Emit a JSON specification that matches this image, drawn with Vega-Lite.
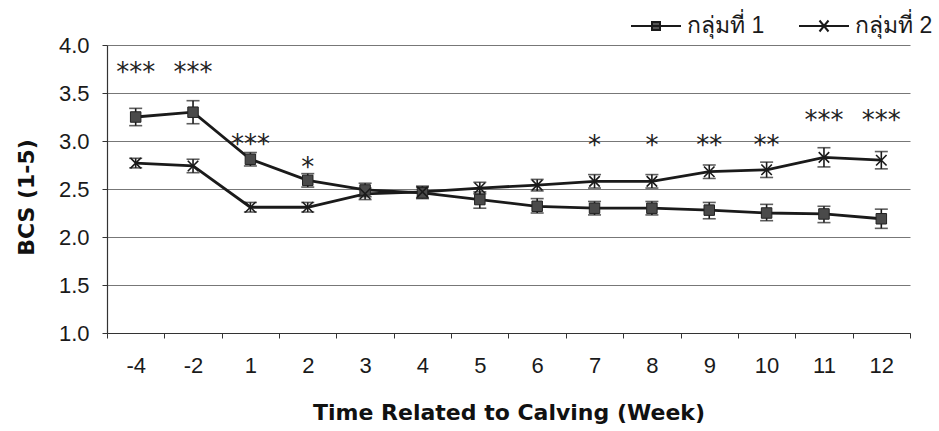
{
  "$schema": "https://vega.github.io/schema/vega-lite/v6.json",
  "width": 803,
  "height": 288,
  "autosize": {"type": "none"},
  "padding": {"left": 107, "top": 45, "right": 29, "bottom": 98},
  "background": "white",
  "config": {
    "view": {"stroke": null},
    "font": "Liberation Sans"
  },
  "datasets": {
    "bcs": [
      {"week": "-4", "group": "กลุ่มที่ 1", "mean": 3.25, "lo": 3.16, "hi": 3.34},
      {"week": "-2", "group": "กลุ่มที่ 1", "mean": 3.30, "lo": 3.18, "hi": 3.42},
      {"week": "1", "group": "กลุ่มที่ 1", "mean": 2.81, "lo": 2.74, "hi": 2.88},
      {"week": "2", "group": "กลุ่มที่ 1", "mean": 2.59, "lo": 2.52, "hi": 2.66},
      {"week": "3", "group": "กลุ่มที่ 1", "mean": 2.49, "lo": 2.42, "hi": 2.56},
      {"week": "4", "group": "กลุ่มที่ 1", "mean": 2.46, "lo": 2.40, "hi": 2.52},
      {"week": "5", "group": "กลุ่มที่ 1", "mean": 2.39, "lo": 2.30, "hi": 2.47},
      {"week": "6", "group": "กลุ่มที่ 1", "mean": 2.32, "lo": 2.25, "hi": 2.40},
      {"week": "7", "group": "กลุ่มที่ 1", "mean": 2.30, "lo": 2.23, "hi": 2.37},
      {"week": "8", "group": "กลุ่มที่ 1", "mean": 2.30, "lo": 2.23, "hi": 2.37},
      {"week": "9", "group": "กลุ่มที่ 1", "mean": 2.28, "lo": 2.19, "hi": 2.36},
      {"week": "10", "group": "กลุ่มที่ 1", "mean": 2.25, "lo": 2.17, "hi": 2.34},
      {"week": "11", "group": "กลุ่มที่ 1", "mean": 2.24, "lo": 2.15, "hi": 2.32},
      {"week": "12", "group": "กลุ่มที่ 1", "mean": 2.19, "lo": 2.09, "hi": 2.29},
      {"week": "-4", "group": "กลุ่มที่ 2", "mean": 2.77, "lo": 2.72, "hi": 2.82},
      {"week": "-2", "group": "กลุ่มที่ 2", "mean": 2.74, "lo": 2.67, "hi": 2.81},
      {"week": "1", "group": "กลุ่มที่ 2", "mean": 2.31, "lo": 2.26, "hi": 2.36},
      {"week": "2", "group": "กลุ่มที่ 2", "mean": 2.31, "lo": 2.26, "hi": 2.36},
      {"week": "3", "group": "กลุ่มที่ 2", "mean": 2.45, "lo": 2.39, "hi": 2.51},
      {"week": "4", "group": "กลุ่มที่ 2", "mean": 2.47, "lo": 2.41, "hi": 2.53},
      {"week": "5", "group": "กลุ่มที่ 2", "mean": 2.51, "lo": 2.45, "hi": 2.57},
      {"week": "6", "group": "กลุ่มที่ 2", "mean": 2.54, "lo": 2.48, "hi": 2.60},
      {"week": "7", "group": "กลุ่มที่ 2", "mean": 2.58, "lo": 2.51, "hi": 2.65},
      {"week": "8", "group": "กลุ่มที่ 2", "mean": 2.58, "lo": 2.51, "hi": 2.65},
      {"week": "9", "group": "กลุ่มที่ 2", "mean": 2.68, "lo": 2.61, "hi": 2.75},
      {"week": "10", "group": "กลุ่มที่ 2", "mean": 2.70, "lo": 2.62, "hi": 2.78},
      {"week": "11", "group": "กลุ่มที่ 2", "mean": 2.83, "lo": 2.73, "hi": 2.93},
      {"week": "12", "group": "กลุ่มที่ 2", "mean": 2.80, "lo": 2.71, "hi": 2.89}
    ],
    "stars": [
      {"week": "-4", "label": "***", "y": 3.76},
      {"week": "-2", "label": "***", "y": 3.76},
      {"week": "1", "label": "***", "y": 3.01},
      {"week": "2", "label": "*", "y": 2.77},
      {"week": "7", "label": "*", "y": 3.0},
      {"week": "8", "label": "*", "y": 3.0},
      {"week": "9", "label": "**", "y": 3.0},
      {"week": "10", "label": "**", "y": 3.0},
      {"week": "11", "label": "***", "y": 3.26},
      {"week": "12", "label": "***", "y": 3.26}
    ]
  },
  "encoding": {
    "x": {
      "field": "week",
      "type": "ordinal",
      "sort": ["-4", "-2", "1", "2", "3", "4", "5", "6", "7", "8", "9", "10", "11", "12"],
      "scale": {"paddingInner": 0, "paddingOuter": 0},
      "axis": {
        "title": "Time Related to Calving (Week)",
        "labelAngle": 0,
        "labelFont": "Liberation Sans",
        "labelFontSize": 22,
        "labelColor": "#1a1a1a",
        "labelPadding": 17,
        "tickSize": 5,
        "tickBand": "extent",
        "tickColor": "#333",
        "domainColor": "#333",
        "domainWidth": 1.2,
        "titleFont": "DejaVu Sans",
        "titleFontSize": 22,
        "titleFontWeight": "bold",
        "titleColor": "#111",
        "titlePadding": 26,
        "grid": false
      }
    }
  },
  "layer": [
    {
      "data": {"name": "bcs"},
      "mark": {"type": "line", "strokeWidth": 2.8},
      "encoding": {
        "y": {
          "field": "mean",
          "type": "quantitative",
          "title": "BCS (1-5)",
          "scale": {"domain": [1, 4], "nice": false, "zero": false},
          "axis": {
            "title": "BCS (1-5)",
            "values": [1, 1.5, 2, 2.5, 3, 3.5, 4],
            "format": ".1f",
            "labelFont": "Liberation Sans",
            "labelFontSize": 22,
            "labelColor": "#1a1a1a",
            "labelPadding": 13,
            "tickSize": 5,
            "tickColor": "#333",
            "domainColor": "#333",
            "domainWidth": 1.2,
            "gridColor": "#777",
            "gridWidth": 1,
            "titleFont": "DejaVu Sans",
            "titleFontSize": 22,
            "titleFontWeight": "bold",
            "titleColor": "#111",
            "titlePadding": 20,
            "titleY": 152
          }
        },
        "color": {
          "field": "group",
          "type": "nominal",
          "scale": {"range": ["#1a1a1a", "#1a1a1a"]},
          "legend": {
            "title": null,
            "orient": "none",
            "direction": "horizontal",
            "legendX": 523,
            "legendY": -45,
            "labelFont": "Liberation Sans",
            "labelFontSize": 23,
            "labelColor": "#1a1a1a",
            "labelOffset": 5,
            "columnPadding": 30,
            "symbolSize": 2500,
            "symbolStrokeWidth": 2,
            "encode": {
              "symbols": {
                "update": {
                  "shape": {"signal": "datum.value === 'กลุ่มที่ 1' ? 'M-1,0H1M-0.16,-0.16H0.16V0.16H-0.16Z' : 'M-1,0H1M-0.18,-0.22L0.18,0.22M-0.18,0.22L0.18,-0.22'"},
                  "fill": {"signal": "datum.value === 'กลุ่มที่ 1' ? '#555' : 'transparent'"},
                  "stroke": {"value": "#1a1a1a"},
                  "strokeWidth": {"value": 2}
                }
              }
            }
          }
        }
      }
    },
    {
      "data": {"name": "bcs"},
      "mark": {"type": "errorbar", "ticks": {"size": 13}, "thickness": 1.6, "color": "#1a1a1a"},
      "encoding": {
        "y": {"field": "lo", "type": "quantitative", "title": "BCS (1-5)"},
        "y2": {"field": "hi"},
        "detail": {"field": "group"}
      }
    },
    {
      "data": {"name": "bcs"},
      "transform": [{"filter": "datum.group === 'กลุ่มที่ 1'"}],
      "mark": {"type": "point", "shape": "square", "filled": true, "size": 110, "fill": "#4a4a4a", "stroke": "#222", "strokeWidth": 1, "opacity": 1},
      "encoding": {
        "y": {"field": "mean", "type": "quantitative", "title": "BCS (1-5)"}
      }
    },
    {
      "data": {"name": "bcs"},
      "transform": [{"filter": "datum.group === 'กลุ่มที่ 2'"}],
      "mark": {"type": "point", "shape": "M-1,-1L1,1M-1,1L1,-1", "filled": false, "size": 110, "stroke": "#1a1a1a", "strokeWidth": 1.6, "opacity": 1},
      "encoding": {
        "y": {"field": "mean", "type": "quantitative", "title": "BCS (1-5)"}
      }
    },
    {
      "data": {"name": "stars"},
      "mark": {"type": "text", "font": "DejaVu Sans", "fontSize": 26, "color": "#222", "baseline": "alphabetic", "dy": 13},
      "encoding": {
        "y": {"field": "y", "type": "quantitative", "title": "BCS (1-5)"},
        "text": {"field": "label"}
      }
    }
  ]
}
